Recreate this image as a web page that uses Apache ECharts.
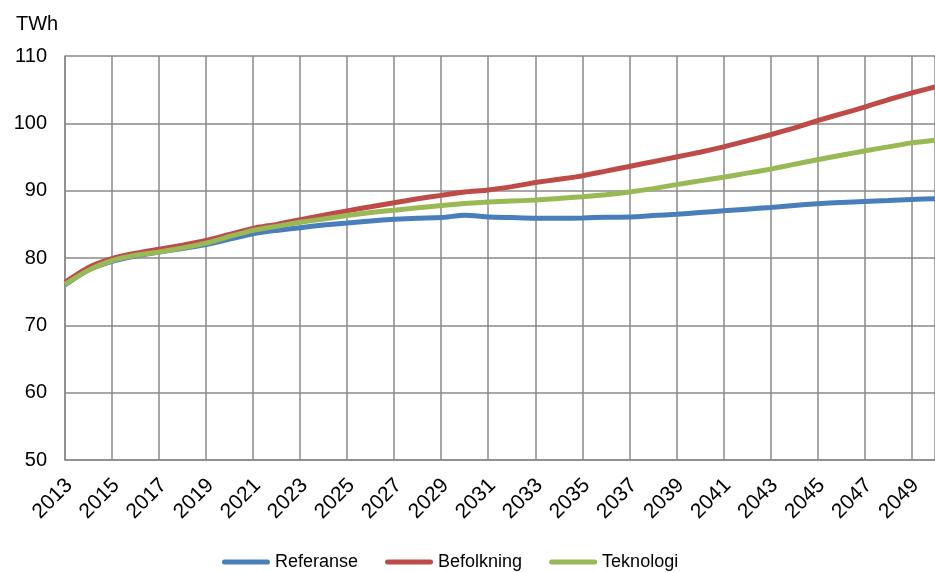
<!DOCTYPE html>
<html>
<head>
<meta charset="utf-8">
<script src="https://cdn.jsdelivr.net/npm/echarts@6/dist/echarts.min.js"></script>
<style>
  html, body { margin: 0; padding: 0; background: #fff; }
  #chart { width: 935px; height: 572px; }
</style>
</head>
<body>
<div id="chart"></div>
<script>
// Electricity demand scenarios, TWh per year
const years = [];
for (let y = 2013; y <= 2050; y++) years.push(y);

const referanse = [
  76.0, 78.2, 79.5, 80.3, 80.9, 81.4, 82.0, 82.8, 83.6, 84.1,
  84.5, 84.9, 85.2, 85.5, 85.75, 85.9, 86.0, 86.35, 86.1, 86.0,
  85.9, 85.9, 85.95, 86.05, 86.1, 86.3, 86.5, 86.75, 87.0, 87.25,
  87.5, 87.8, 88.05, 88.25, 88.4, 88.55, 88.7, 88.8
];
const befolkning = [
  76.4, 78.6, 79.9, 80.7, 81.3, 81.9, 82.6, 83.5, 84.4, 85.0,
  85.7, 86.35, 87.0, 87.6, 88.2, 88.8, 89.3, 89.8, 90.1, 90.6,
  91.2, 91.7, 92.2, 92.9, 93.6, 94.3, 95.0, 95.7, 96.5, 97.4,
  98.3, 99.3, 100.4, 101.4, 102.4, 103.5, 104.5, 105.4
];
const teknologi = [
  76.1, 78.2, 79.6, 80.4, 80.9, 81.5, 82.2, 83.2, 84.1, 84.7,
  85.3, 85.8, 86.3, 86.75, 87.1, 87.45, 87.8, 88.1, 88.3, 88.45,
  88.6, 88.85, 89.1, 89.4, 89.8, 90.3, 90.9, 91.45, 92.0, 92.6,
  93.2, 93.9, 94.6, 95.25, 95.9, 96.5, 97.1, 97.5
];

const seriesNames = ['Referanse', 'Befolkning', 'Teknologi'];
const seriesColors = ['#4A7EBB', '#BE4B48', '#98B954'];
const seriesValues = [referanse, befolkning, teknologi];

const gridLine = { color: '#8a8a8a', width: 1.5 };
const font = 'Liberation Sans, Arial, sans-serif';
const pill = 'path://M2.5,0H45.5A2.5,2.5,0,0,1,45.5,5H2.5A2.5,2.5,0,0,1,2.5,0Z';

const chart = echarts.init(document.getElementById('chart'), null, { renderer: 'canvas' });
chart.setOption({
  animation: false,
  backgroundColor: '#fff',
  textStyle: { fontFamily: font },
  title: {
    text: 'TWh',
    left: 11,
    top: 9,
    textStyle: { fontFamily: font, fontSize: 20, fontWeight: 'normal', color: '#000' }
  },
  legend: {
    data: seriesNames.map(n => ({ name: n, icon: pill })),
    left: 222,
    top: 553,
    padding: 0,
    itemWidth: 48,
    itemHeight: 5,
    itemGap: 27,
    textStyle: { fontFamily: font, fontSize: 18, color: '#000' }
  },
  grid: { left: 65, top: 56, width: 880, height: 404, containLabel: false },
  xAxis: {
    type: 'value',
    min: 2013,
    max: 2050,
    interval: 2,
    axisLine: { show: true, lineStyle: gridLine },
    axisTick: { show: false },
    splitLine: { show: true, lineStyle: gridLine },
    axisLabel: {
      rotate: 45,
      margin: 18,
      verticalAlign: 'top',
      lineHeight: 12,
      showMaxLabel: false,
      fontFamily: font,
      fontSize: 21,
      color: '#000',
      formatter: v => String(v)
    }
  },
  yAxis: {
    type: 'value',
    min: 50,
    max: 110,
    interval: 10,
    axisLine: { show: true, lineStyle: gridLine },
    axisTick: { show: false },
    splitLine: { show: true, lineStyle: gridLine },
    axisLabel: { margin: 18, fontFamily: font, fontSize: 20, color: '#000' }
  },
  series: seriesNames.map((name, i) => ({
    name,
    type: 'line',
    data: years.map((y, j) => [y, seriesValues[i][j]]),
    showSymbol: false,
    symbol: 'none',
    smooth: 0.2,
    color: seriesColors[i],
    lineStyle: { width: 5, color: seriesColors[i] },
    z: 3 + i
  }))
});
</script>
</body>
</html>
